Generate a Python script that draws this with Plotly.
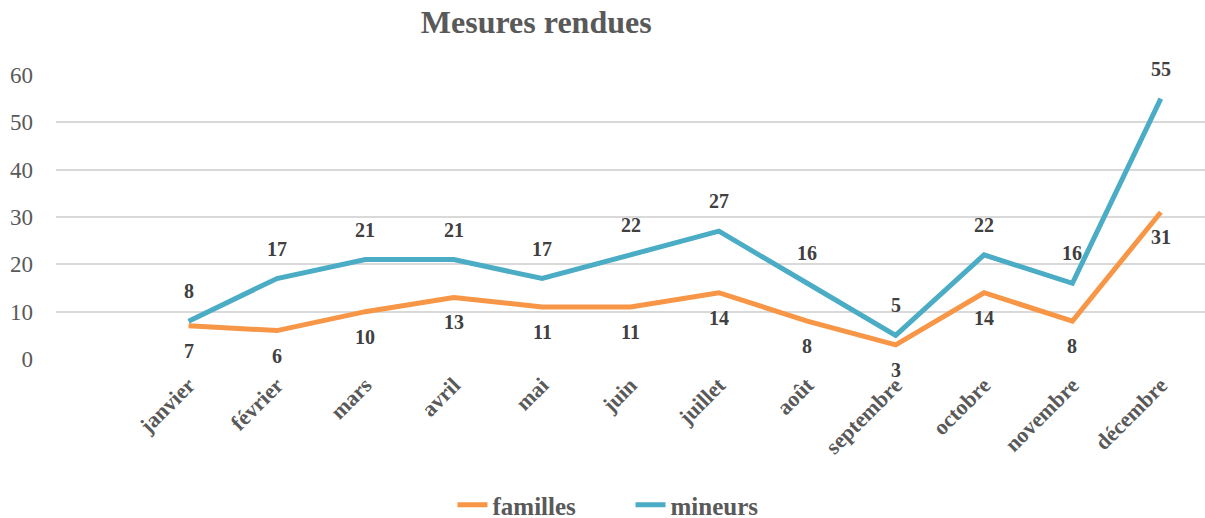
import plotly.graph_objects as go

# Data
mois = ['janvier', 'février', 'mars', 'avril', 'mai', 'juin', 'juillet',
        'août', 'septembre', 'octobre', 'novembre', 'décembre']
familles = [7, 6, 10, 13, 11, 11, 14, 8, 3, 14, 8, 31]
mineurs = [8, 17, 21, 21, 17, 22, 27, 16, 5, 22, 16, 55]

ORANGE = '#F79646'
TEAL = '#4BACC6'
SERIF = 'Liberation Serif, DejaVu Serif, serif'

fig = go.Figure()

fig.add_trace(go.Scatter(
    x=mois, y=familles, mode='lines', name='<b>familles</b>',
    line=dict(color=ORANGE, width=5)
))
fig.add_trace(go.Scatter(
    x=mois, y=mineurs, mode='lines', name='<b>mineurs</b>',
    line=dict(color=TEAL, width=5)
))

# Data labels: mineurs above the line, familles below
label_font = dict(family=SERIF, size=20, color='#404040')
for m, v in zip(mois, mineurs):
    fig.add_annotation(x=m, y=v, text=f'<b>{v}</b>', showarrow=False,
                       yshift=30, font=label_font)
for m, v in zip(mois, familles):
    fig.add_annotation(x=m, y=v, text=f'<b>{v}</b>', showarrow=False,
                       yshift=-25, font=label_font)

fig.update_layout(
    width=1205, height=518,
    margin=dict(l=56, r=0, t=75, b=159),
    paper_bgcolor='white', plot_bgcolor='white',
    title=dict(text='<b>Mesures rendues</b>', x=0.445, xref='container',
               xanchor='center', y=1 - 22 / 518, yanchor='middle',
               font=dict(family=SERIF, size=32, color='#595959')),
    xaxis=dict(
        type='category', range=[-1.5, 11.5], tickangle=-45,
        showgrid=False, showline=False, zeroline=False, ticks='',
        tickprefix='<b>', ticksuffix='</b>', ticklabelstandoff=8,
        tickfont=dict(family=SERIF, size=22, color='#595959'),
    ),
    yaxis=dict(
        range=[0, 60], dtick=10, showgrid=True, gridcolor='#D9D9D9',
        gridwidth=1.5, zeroline=False, showline=False, ticks='',
        ticklabelstandoff=22,
        tickfont=dict(family=SERIF, size=23, color='#595959'),
    ),
    legend=dict(
        orientation='h', x=0.50, xanchor='center', entrywidth=133,
        yref='container', y=13 / 518, yanchor='middle',
        font=dict(family=SERIF, size=25, color='#595959'),
    ),
    showlegend=True,
)

# the page body has an 8px default margin; remove it so the figure fills the window
fig.write_html('out.html', config={'displayModeBar': False},
               post_script="document.body.style.margin='0';")
